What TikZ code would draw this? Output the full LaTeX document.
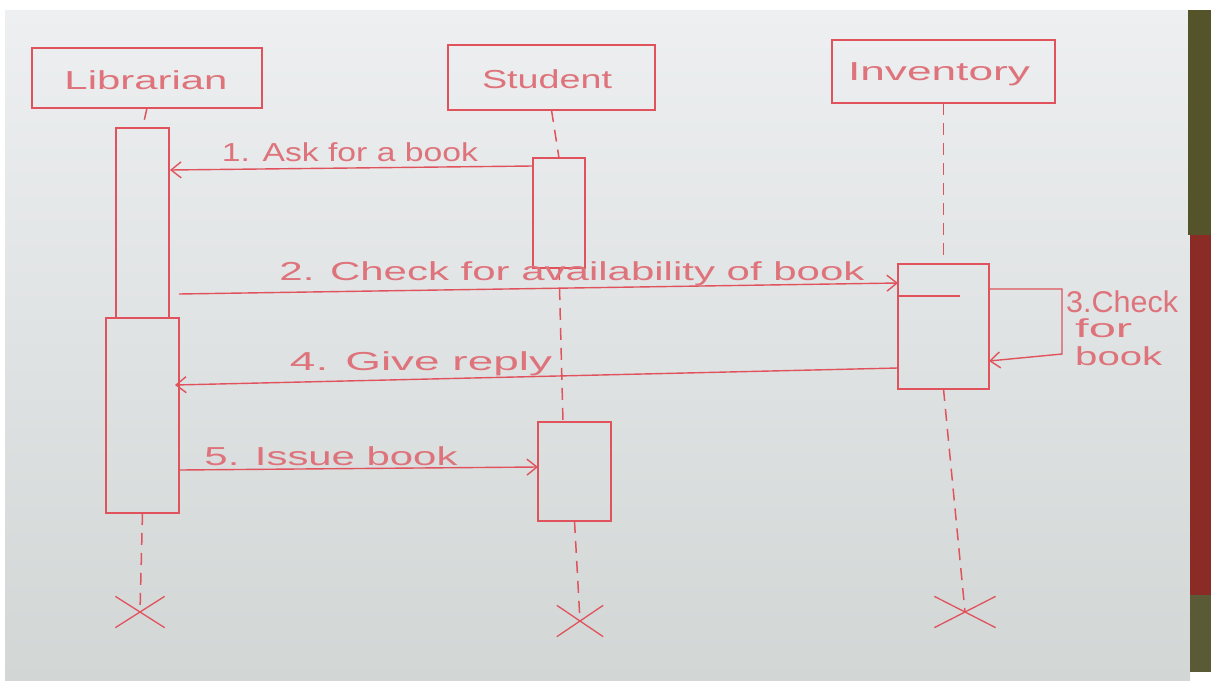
\documentclass[tikz,border=0pt]{standalone}
\usepackage{fontspec}
\setmainfont{Liberation Sans}
\usepackage{graphicx}
\usetikzlibrary{arrows.meta,shapes.misc}

\definecolor{ink}{HTML}{E0535C}
\definecolor{inktext}{HTML}{DE737B}
\definecolor{paperTop}{HTML}{EDEFF0}
\definecolor{paperBot}{HTML}{D2D6D5}
\definecolor{olive}{HTML}{55532A}
\definecolor{cloth}{HTML}{8A2C25}

% stretch a text horizontally to a given width (in pt), keeping its height
\newcommand\handw[2]{\resizebox{#1pt}{\height}{#2}}

\begin{document}
\begin{tikzpicture}[x=1pt,y=-1pt,
  pen/.style={draw=ink,line width=1.4pt},
  objbox/.style={pen,rectangle,inner sep=0pt,outer sep=0pt},
  actbar/.style={pen,rectangle,inner sep=0pt,outer sep=0pt},
  lifeline/.style={draw=ink,line width=1.5pt,dash pattern=on 12pt off 8pt},
  msg/.style={pen,-{Straight Barb[length=10pt,width=16pt,line width=1.4pt]}},
  endmark/.style={draw=ink,line width=1.3pt,cross out,inner sep=0pt},
  lbl/.style={text=inktext,font=\fontsize{26}{28}\selectfont,inner sep=0pt},
  bigl/.style={text=inktext,font=\fontsize{30}{32}\selectfont,inner sep=0pt},
]
\useasboundingbox (0,0) rectangle (1211,688);

% sheet of paper and the cloth behind it
\fill[white] (0,0) rectangle (1211,688);
\shade[top color=paperTop,bottom color=paperBot] (5,10) rectangle (1190,680);
\fill[olive] (1188,10) rectangle (1211,235);
\fill[cloth] (1190,235) rectangle (1211,595);
\fill[olive!85!gray] (1190,595) rectangle (1211,672);

% objects
\node[objbox,minimum width=230,minimum height=60] (lib) at (147,78) {};
\node[objbox,minimum width=207,minimum height=65] (stu) at (551.5,77.5) {};
\node[objbox,minimum width=223,minimum height=63] (inv) at (943.5,71.5) {};
\node[lbl] (libT) at (146,80) {\handw{163}{Librarian}};
\node[lbl] (stuT) at (547,79) {\handw{130}{Student}};
\node[lbl] (invT) at (939,74) {\handw{182}{Inventory}};

% activation bars
\node[actbar,minimum width=53,minimum height=190] (libA) at (142.5,223) {};
\node[actbar,minimum width=73,minimum height=195] (libB) at (142.5,415.5) {};
\node[actbar,minimum width=52,minimum height=110] (stuA) at (559,213) {};
\node[actbar,minimum width=73,minimum height=99] (stuB) at (574.5,471.5) {};
\node[actbar,minimum width=91,minimum height=125] (invA) at (943.5,326.5) {};
\coordinate (invL1) at (898,296);
\coordinate (invL2) at (960,296);
\draw[pen] (invL1) -- (invL2);

% ends of the lifelines
\node[endmark,minimum width=48,minimum height=30] (libX) at (140,612) {};
\node[endmark,minimum width=45,minimum height=30] (stuX) at (580,621) {};
\node[endmark,minimum width=60,minimum height=30] (invX) at (965,612) {};

% lifelines
\coordinate (stuMid) at (563,422);
\draw[lifeline] (lib.south) -- (libA.north);
\draw[lifeline] (libB.south) -- (libX.center);
\draw[lifeline] (stu.south) -- (stuA.north);
\draw[lifeline] (stuA.south) -- (stuMid);
\draw[lifeline] (stuB.south) -- (stuX.center);
\draw[lifeline] (inv.south) -- (invA.north);
\draw[lifeline] (invA.south) -- (invX.center);

% message end points
\coordinate (m1a) at (533,166);
\coordinate (m1b) at (170,170);
\coordinate (m2a) at (179,294);
\coordinate (m2b) at (898,283);
\coordinate (m3a) at (990,289);
\coordinate (m3b) at (1062,289);
\coordinate (m3c) at (1062,354);
\coordinate (m3d) at (989,361);
\coordinate (m4a) at (898,368);
\coordinate (m4b) at (175,385);
\coordinate (m5a) at (180,470);
\coordinate (m5b) at (538,467);

% messages
\draw[msg] (m1a) -- (m1b);
\draw[msg] (m2a) -- (m2b);
\draw[msg] (m3a) -- (m3b) -- (m3c) -- (m3d);
\draw[msg] (m4a) -- (m4b);
\draw[msg] (m5a) -- (m5b);

% message labels
\node[lbl] (l1) at (350,152) {\handw{256}{1. Ask for a book}};
\node[lbl] (l2) at (572,274) {\handw{585}{2. Check for availability of book}};
\node[lbl] (l4) at (421,364) {\handw{262}{4. Give reply}};
\node[lbl] (l5) at (331,456) {\handw{253}{5. Issue book}};
\node[bigl,anchor=west] (l3a) at (1066,302) {\handw{112}{3.Check}};
\node[lbl,anchor=west] (l3b) at (1075,328) {\handw{57}{for}};
\node[lbl,anchor=west] (l3c) at (1075,356) {\handw{87}{book}};
\end{tikzpicture}
\end{document}
